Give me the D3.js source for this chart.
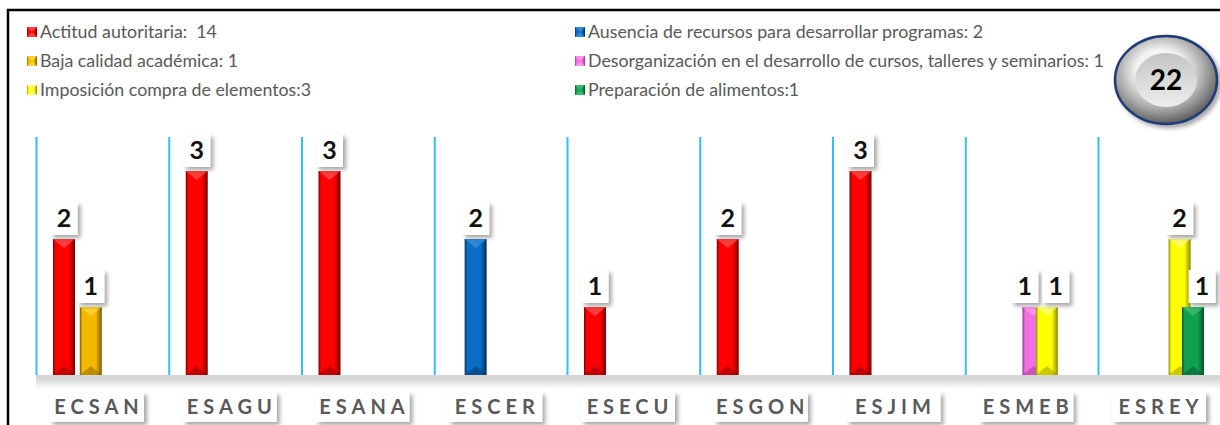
<!DOCTYPE html>
<html>
<head>
<meta charset="utf-8">
<script src="https://cdn.jsdelivr.net/npm/d3@7"></script>
<style>
  body { margin: 0; background: #fff; }
  svg { display: block; }
</style>
</head>
<body>
<svg id="chart" width="1220" height="425"></svg>
<script>
// Data
const categories = ['ECSAN', 'ESAGU', 'ESANA', 'ESCER', 'ESECU', 'ESGON', 'ESJIM', 'ESMEB', 'ESREY']
const seriesKeys = ['actitud', 'ausencia', 'baja', 'desorg', 'imposicion', 'preparacion']
const legendLabels = [
  'Actitud autoritaria:  14',
  'Ausencia de recursos para desarrollar programas: 2',
  'Baja calidad académica: 1',
  'Desorganización en el desarrollo de cursos, talleres y seminarios: 1',
  'Imposición compra de elementos:3',
  'Preparación de alimentos:1'
]
const actitud     = [2, 3, 3, 0, 1, 2, 3, 0, 0]
const ausencia    = [0, 0, 0, 2, 0, 0, 0, 0, 0]
const baja        = [1, 0, 0, 0, 0, 0, 0, 0, 0]
const desorg      = [0, 0, 0, 0, 0, 0, 0, 1, 0]
const imposicion  = [0, 0, 0, 0, 0, 0, 0, 1, 2]
const preparacion = [0, 0, 0, 0, 0, 0, 0, 0, 1]
const total = 22

const values = { actitud, ausencia, baja, desorg, imposicion, preparacion }
const colors = {
  actitud:     { base: '#ff0000', dark: '#7a0000', light: '#ff5050' },
  ausencia:    { base: '#0a6ec4', dark: '#062f5a', light: '#3a92e0' },
  baja:        { base: '#f5b800', dark: '#7a5a00', light: '#ffd640' },
  desorg:      { base: '#f070e0', dark: '#9a3090', light: '#ff9af0' },
  imposicion:  { base: '#ffff00', dark: '#8a8a00', light: '#ffff80' },
  preparacion: { base: '#10a050', dark: '#05502a', light: '#40c070' }
}

const svg = d3.select('#chart')
const width = +svg.attr('width')
const height = +svg.attr('height')
const font = 'Lato, "Open Sans", sans-serif'

const defs = svg.append('defs')

// drop shadow for boxes
const shadow = defs.append('filter').attr('id', 'shadow')
  .attr('x', '-40%').attr('y', '-40%').attr('width', '200%').attr('height', '200%')
shadow.append('feDropShadow')
  .attr('dx', 3).attr('dy', 3).attr('stdDeviation', 2.2)
  .attr('flood-color', '#000').attr('flood-opacity', 0.35)

// bar gradients
seriesKeys.forEach(k => {
  const g = defs.append('linearGradient').attr('id', 'grad-' + k)
    .attr('x1', '0%').attr('x2', '100%').attr('y1', '0%').attr('y2', '0%')
  g.append('stop').attr('offset', '0%').attr('stop-color', colors[k].dark)
  g.append('stop').attr('offset', '12%').attr('stop-color', colors[k].base)
  g.append('stop').attr('offset', '45%').attr('stop-color', colors[k].base)
  g.append('stop').attr('offset', '72%').attr('stop-color', colors[k].base)
  g.append('stop').attr('offset', '100%').attr('stop-color', colors[k].dark)
})

// floor shadow gradient
const fg = defs.append('linearGradient').attr('id', 'floor')
  .attr('x1', 0).attr('x2', 0).attr('y1', 0).attr('y2', 1)
fg.append('stop').attr('offset', '0%').attr('stop-color', '#d0d0d0')
fg.append('stop').attr('offset', '100%').attr('stop-color', '#ffffff')

// badge gradients
const rg = defs.append('radialGradient').attr('id', 'ring')
  .attr('cx', '45%').attr('cy', '40%').attr('r', '60%')
rg.append('stop').attr('offset', '40%').attr('stop-color', '#f4f4f4')
rg.append('stop').attr('offset', '75%').attr('stop-color', '#a0a0a0')
rg.append('stop').attr('offset', '100%').attr('stop-color', '#5e5e5e')
const ig = defs.append('linearGradient').attr('id', 'inner')
  .attr('x1', 0).attr('x2', 0).attr('y1', 0).attr('y2', 1)
ig.append('stop').attr('offset', '0%').attr('stop-color', '#c4c4c4')
ig.append('stop').attr('offset', '100%').attr('stop-color', '#eeeeee')

// Scales
const baseline = 375
const x0 = d3.scaleBand()
  .domain(categories)
  .range([36, 36 + 132.75 * categories.length])
  .paddingInner(0)
const x1 = d3.scalePoint()
  .domain(seriesKeys)
  .range([17, 84])
const barW = 22
const y = d3.scaleLinear()
  .domain([0, 3.5])
  .range([baseline, 137])

// Frame
svg.append('rect')
  .attr('x', 8).attr('y', 10)
  .attr('width', width + 10).attr('height', height + 10)
  .attr('fill', 'none').attr('stroke', '#000').attr('stroke-width', 2.5)

// vertical grid lines at category boundaries
svg.append('g')
  .selectAll('line')
  .data(categories)
  .join('line')
  .attr('x1', d => x0(d) + 0.5)
  .attr('x2', d => x0(d) + 0.5)
  .attr('y1', y(3.5))
  .attr('y2', baseline)
  .attr('stroke', '#33bdf2')
  .attr('stroke-width', 2)

// floor
svg.append('rect')
  .attr('x', 36).attr('y', baseline + 2)
  .attr('width', width - 36).attr('height', 12)
  .attr('fill', 'url(#floor)')
svg.append('rect')
  .attr('x', 36).attr('y', baseline)
  .attr('width', width - 36).attr('height', 3)
  .attr('fill', '#d6d6d6')

// Bars
const barData = []
seriesKeys.forEach(k => {
  values[k].forEach((v, i) => {
    if (v > 0) barData.push({ key: k, cat: categories[i], value: v, bx: x0(categories[i]) + x1(k) })
  })
})

const bars = svg.append('g')
  .selectAll('g')
  .data(barData)
  .join('g')
  .attr('transform', d => `translate(${d.bx},0)`)

bars.append('rect')
  .attr('x', 0)
  .attr('y', d => y(d.value))
  .attr('width', barW)
  .attr('height', d => baseline - y(d.value))
  .attr('fill', d => `url(#grad-${d.key})`)

// top bevel
bars.append('path')
  .attr('d', d => {
    const t = y(d.value)
    return `M0,${t} L${barW},${t} L${barW / 2},${t + 9} Z`
  })
  .attr('fill', d => colors[d.key].light)
  .attr('opacity', 0.75)
// bottom bevel
bars.append('path')
  .attr('d', d => `M0,${baseline} L${barW},${baseline} L${barW / 2},${baseline - 9} Z`)
  .attr('fill', d => colors[d.key].dark)
  .attr('opacity', 0.45)

// Data labels: centred on bar, nudged so boxes don't collide
const boxW = 27, boxH = 33
barData.forEach(d => { d.lx = d.bx + barW / 2 })
categories.forEach(c => {
  const inCat = barData.filter(d => d.cat === c)
  inCat.forEach((d, i) => {
    inCat.slice(0, i).forEach(p => {
      if (p.value === d.value && Math.abs(d.lx - p.lx) < boxW + 4) {
        const mid = (d.lx + p.lx) / 2
        p.lx = mid - (boxW + 4) / 2
        d.lx = mid + (boxW + 4) / 2
      } else if (p.value > d.value && d.lx - boxW / 2 < p.bx + barW) {
        d.lx = p.bx + barW - 2 + boxW / 2
      }
    })
  })
})

const labels = svg.append('g')
  .selectAll('g')
  .data(barData)
  .join('g')
  .attr('transform', d => `translate(${d.lx},${y(d.value) - 4})`)

labels.append('rect')
  .attr('x', -boxW / 2).attr('y', -boxH)
  .attr('width', boxW).attr('height', boxH)
  .attr('fill', '#fff')
  .attr('filter', 'url(#shadow)')

labels.append('text')
  .attr('x', 0).attr('y', -8)
  .attr('text-anchor', 'middle')
  .style('font-family', font)
  .style('font-weight', 'bold')
  .style('font-size', '25px')
  .style('fill', '#111')
  .text(d => d.value)

// X axis labels
const xl = svg.append('g')
  .selectAll('g')
  .data(categories)
  .join('g')
  .attr('transform', d => `translate(${x0(d) + 61},407)`)

xl.append('rect')
  .attr('x', -47).attr('y', -15)
  .attr('width', 94).attr('height', 30)
  .attr('fill', '#fff')
  .attr('filter', 'url(#shadow)')

xl.append('text')
  .attr('x', 2).attr('y', 7)
  .attr('text-anchor', 'middle')
  .style('font-family', font)
  .style('font-weight', 'bold')
  .style('font-size', '20px')
  .style('letter-spacing', '5px')
  .style('fill', '#595959')
  .text(d => d)

// Legend
const legend = svg.append('g')
  .selectAll('g')
  .data(seriesKeys)
  .join('g')
  .attr('transform', (d, i) => `translate(${i % 2 === 0 ? 27 : 575},${32 + Math.floor(i / 2) * 29})`)

legend.append('rect')
  .attr('x', 0).attr('y', -5)
  .attr('width', 10).attr('height', 10)
  .attr('fill', d => `url(#grad-${d})`)
legend.append('path')
  .attr('d', 'M0,-5 L10,-5 L5,0 Z M0,5 L10,5 L5,0 Z')
  .attr('fill', d => colors[d].light)
  .attr('opacity', 0.8)

legend.append('text')
  .attr('x', 13).attr('y', 6)
  .style('font-family', font)
  .style('font-size', '17.8px')
  .style('white-space', 'pre')
  .style('fill', '#595959')
  .text((d, i) => legendLabels[i])

// Total badge
const badge = svg.append('g').attr('transform', 'translate(1166,80)')
badge.append('ellipse')
  .attr('rx', 51).attr('ry', 44)
  .attr('fill', 'url(#ring)')
  .attr('stroke', '#1f3b78').attr('stroke-width', 2.5)
  .attr('filter', 'url(#shadow)')
badge.append('ellipse')
  .attr('rx', 31).attr('ry', 27)
  .attr('fill', 'url(#inner)')
badge.append('text')
  .attr('y', 10)
  .attr('text-anchor', 'middle')
  .style('font-family', font)
  .style('font-weight', 'bold')
  .style('font-size', '28px')
  .style('fill', '#000')
  .text(total)
</script>
</body>
</html>
